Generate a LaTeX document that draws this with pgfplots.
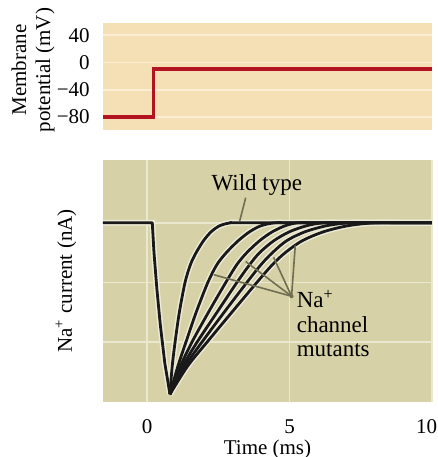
\documentclass[border=0pt]{standalone}
\usepackage{fontspec}
\setmainfont{Liberation Serif}
\usepackage{pgfplots}
\usepackage{pgfplotstable}
\pgfplotsset{compat=1.18}

\definecolor{bgT}{RGB}{245,223,181}
\definecolor{gridT}{RGB}{251,238,212}
\definecolor{bgB}{RGB}{214,209,166}
\definecolor{gridB}{RGB}{234,232,206}
\definecolor{redline}{RGB}{180,20,34}
\definecolor{pointer}{RGB}{112,110,82}

% drop + baseline before the pulse
\pgfplotstableread{
t y
-1.55 0
0.18 0
0.24 -0.50
0.34 -1.10
0.46 -1.70
0.62 -2.35
0.80 -2.87
}\drop

\pgfplotstableread{
t y
0.80 -2.87
0.88 -2.40
0.98 -2.00
1.13 -1.50
1.33 -1.00
1.52 -0.70
1.72 -0.50
1.98 -0.30
2.25 -0.15
2.55 -0.05
2.95 0
3.50 0
10 0
}\wild

\pgfplotstableread{
t y
0.80 -2.87
1.08 -2.40
1.36 -2.00
1.72 -1.50
2.13 -1.00
2.45 -0.70
2.78 -0.50
3.20 -0.30
3.60 -0.15
4.00 -0.05
4.50 0
5.20 0
10 0
}\mutA

\pgfplotstableread{
t y
0.80 -2.87
1.17 -2.40
1.57 -2.00
2.15 -1.50
2.76 -1.00
3.15 -0.70
3.50 -0.50
3.95 -0.30
4.40 -0.15
4.85 -0.05
5.30 0
6.00 0
10 0
}\mutB

\pgfplotstableread{
t y
0.80 -2.87
1.25 -2.40
1.75 -2.00
2.45 -1.50
3.15 -1.00
3.60 -0.70
3.95 -0.50
4.45 -0.30
5.00 -0.15
5.60 -0.05
6.20 0
7.00 0
10 0
}\mutC

\pgfplotstableread{
t y
0.80 -2.87
1.33 -2.40
1.92 -2.00
2.70 -1.50
3.50 -1.00
4.00 -0.70
4.40 -0.50
4.90 -0.30
5.55 -0.15
6.30 -0.05
7.10 0
8.00 0
10 0
}\mutD

\pgfplotstableread{
t y
0.80 -2.87
1.42 -2.40
2.10 -2.00
2.97 -1.50
3.85 -1.00
4.40 -0.70
4.85 -0.50
5.45 -0.30
6.20 -0.15
7.05 -0.05
8.00 0
9.00 0
10 0
}\mutE

\begin{document}
\fontsize{10.5}{12}\selectfont
\begin{tikzpicture}
\useasboundingbox (0,0) rectangle (219pt,228.5pt);
\pgfplotsset{
    common/.style={
        scale only axis,
        width=164.5pt,
        anchor=south west,
        xmin=-1.55, xmax=10,
        axis line style={draw=none},
        major tick length=0pt,
        /pgf/number format/assume math mode=true,
        tick label style={font=\fontsize{10.5}{12}\selectfont},
    },
    halo/.style={draw=white!55!bgB, line width=2.9pt, smooth, tension=0.5, forget plot},
    curve/.style={draw=black!90, line width=1.4pt, smooth, tension=0.5, line join=round},
}

% membrane potential
\begin{axis}[common,
    at={(51.5pt,163.5pt)},
    height=53.5pt,
    ymin=-99, ymax=58,
    xtick=\empty,
    ytick={-80,-40,0,40},
    yticklabels={−80,−40,0,40},
    yticklabel style={xshift=-3pt},
    ymajorgrids,
    major grid style={draw=gridT, line width=0.9pt},
    axis background/.style={fill=bgT},
]
    \addplot[draw=redline, line width=1.9pt, line join=miter] coordinates {
        (-1.55,-80) (0.22,-80) (0.22,-9) (10,-9)
    };
\end{axis}

% sodium current
\begin{axis}[common,
    at={(51.5pt,27.5pt)},
    height=121pt,
    ymin=-3, ymax=1.05,
    xtick={0,5,10},
    xticklabels={0,5,10\hphantom{0}},
    ytick={-2,-1,0},
    yticklabels={},
    xticklabel style={yshift=-5pt},
    grid=major,
    major grid style={draw=gridB, line width=0.9pt},
    axis background/.style={fill=bgB},
]
    \addplot[halo, sharp plot] table {\drop};
    \addplot[halo] table {\mutE};
    \addplot[halo] table {\mutD};
    \addplot[halo] table {\mutC};
    \addplot[halo] table {\mutB};
    \addplot[halo] table {\mutA};
    \addplot[halo] table {\wild};
    \addplot[curve, sharp plot] table {\drop};
    \addplot[curve] table {\mutE};
    \addplot[curve] table {\mutD};
    \addplot[curve] table {\mutC};
    \addplot[curve] table {\mutB};
    \addplot[curve] table {\mutA};
    \addplot[curve] table {\wild};

    \draw[pointer, line width=0.8pt] (axis cs:3.46,0.42) -- (axis cs:3.25,0.03);
    \draw[pointer, line width=0.8pt] (axis cs:2.34,-0.87) -- (axis cs:5.07,-1.23);
    \draw[pointer, line width=0.8pt] (axis cs:3.46,-0.65) -- (axis cs:5.07,-1.23);
    \draw[pointer, line width=0.8pt] (axis cs:4.44,-0.58) -- (axis cs:5.07,-1.23);
    \draw[pointer, line width=0.8pt] (axis cs:5.20,-0.38) -- (axis cs:5.07,-1.23);
    \fill[pointer] (axis cs:5.07,-1.23) circle (1pt);

    \node[anchor=center, font=\fontsize{11.5}{13}\selectfont] at (axis cs:3.85,0.63) {Wild type};
    \node[anchor=north west, align=left, inner sep=0pt,
          font=\fontsize{11.5}{12.2}\selectfont] at (axis cs:5.24,-1.12)
        {Na\textsuperscript{+}\\channel\\mutants};
\end{axis}

\node[rotate=90, align=center, inner sep=0pt] at (16.5pt,193.5pt) {Membrane\\potential (mV)};
\node[rotate=90, inner sep=0pt] at (33pt,88pt) {Na\textsuperscript{+} current (nA)};
\node[inner sep=0pt] at (133.75pt,3.75pt) {Time (ms)};
\end{tikzpicture}
\end{document}
